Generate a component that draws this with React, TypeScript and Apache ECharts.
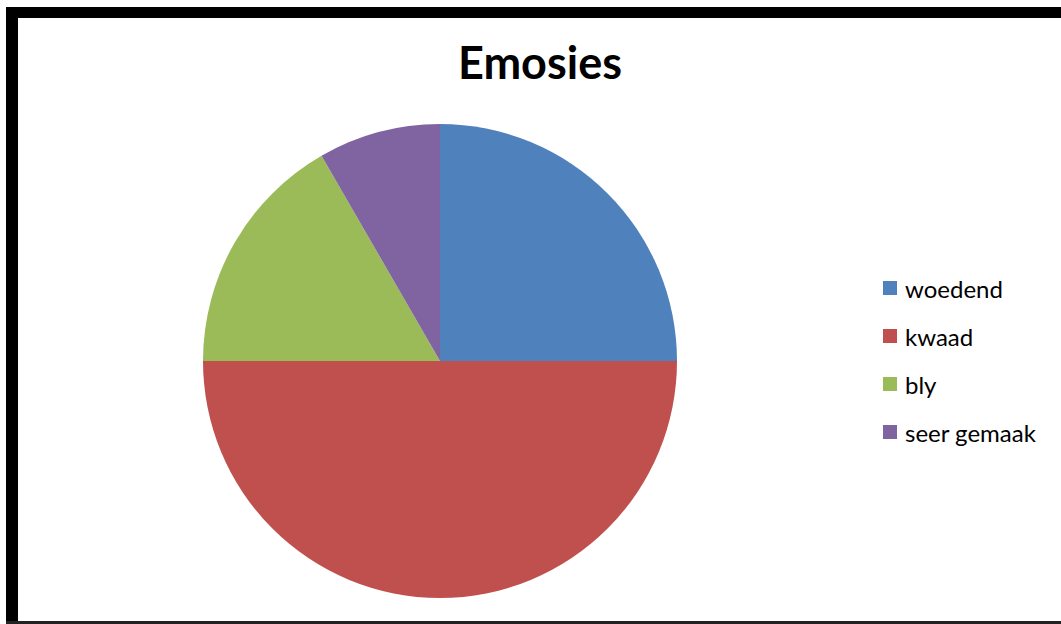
import React, { useEffect, useRef } from "react";
import * as echarts from "echarts";

const categories = ["woedend", "kwaad", "bly", "seer gemaak"];
const values = [3, 6, 2, 1];
const colors = ["#4F81BD", "#C0504D", "#9BBB59", "#8064A2"];
const title = "Emosies";

export default function App() {
  const ref = useRef<HTMLDivElement>(null);
  useEffect(() => {
    const chart = echarts.init(ref.current!, null, { renderer: "svg" });
    chart.setOption({
      animation: false,
      backgroundColor: "#fff",
      title: {
        text: title,
        left: 535,
        top: 34,
        textAlign: "center",
        textStyle: { fontFamily: "Lato", fontWeight: "bold", fontSize: 45, color: "#000" },
      },
      legend: {
        orient: "vertical",
        left: 878,
        top: 271,
        itemWidth: 14,
        itemHeight: 14,
        itemGap: 24,
        icon: "rect",
        textStyle: { fontFamily: "Lato", fontSize: 24, color: "#000", lineHeight: 24, padding: [0, 0, 0, 3] },
        data: categories,
      },
      graphic: [
        { type: "rect", shape: { x: 6, y: 7, width: 1100, height: 11 }, style: { fill: "#000" } },
        { type: "rect", shape: { x: 6, y: 7, width: 12, height: 620 }, style: { fill: "#000" } },
        { type: "rect", shape: { x: 6, y: 621, width: 1100, height: 4 }, style: { fill: "#222" } },
      ],
      series: [
        {
          type: "pie",
          center: [440, 361],
          radius: 237,
          startAngle: 90,
          clockwise: true,
          label: { show: false },
          labelLine: { show: false },
          emphasis: { disabled: true },
          itemStyle: { borderWidth: 0 },
          data: categories.map((c, i) => ({ name: c, value: values[i], itemStyle: { color: colors[i] } })),
        },
      ],
    });
    return () => chart.dispose();
  }, []);
  return <div ref={ref} style={{ position: "absolute", left: 0, top: 0, width: 1061, height: 624 }} />;
}
